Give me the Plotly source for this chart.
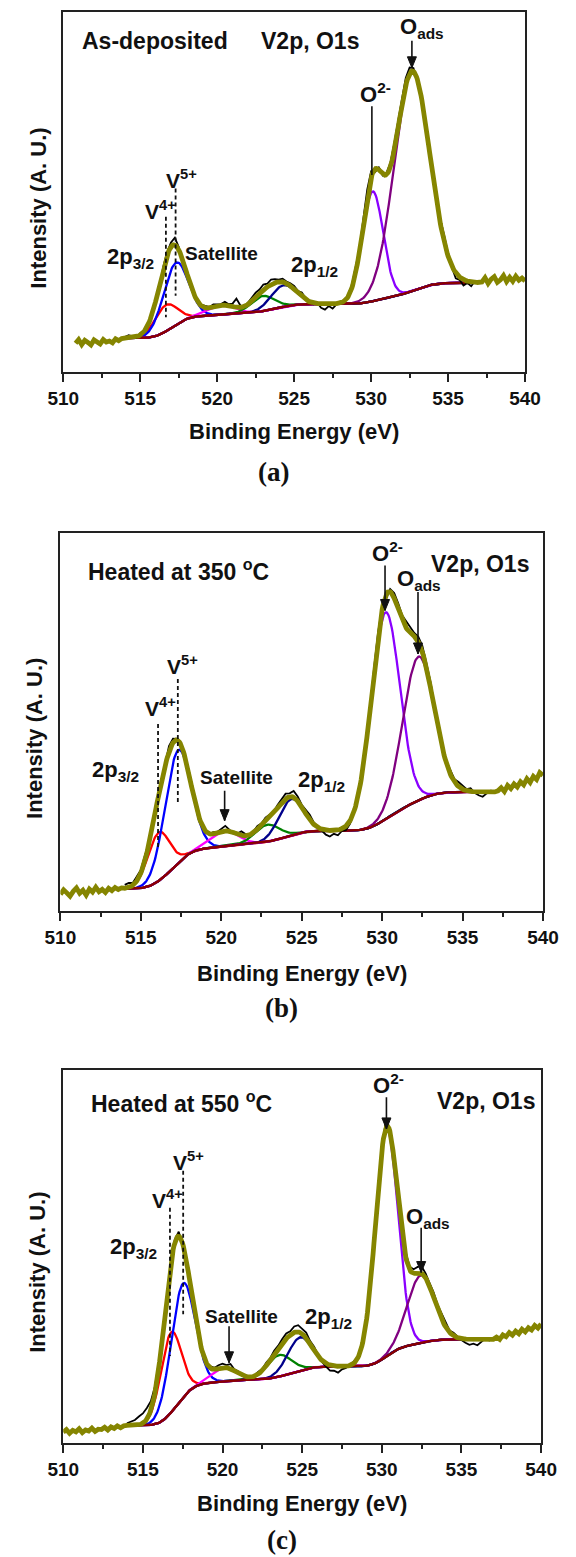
import numpy as np
import plotly.graph_objects as go

W, H = 576, 1557
FONT = "Liberation Sans, Arial, sans-serif"

# ---------------------------------------------------------------------------
# Fitted region (binding energy, eV) and sampling of the measured spectrum
fit_lo, fit_hi, fit_step = 514.0, 537.0, 0.05
raw_every = 5          # measured points every 0.25 eV
edge_step = 0.2        # sampling of the flat survey ends

# Fit components, in drawing order
component_names = ["V4+ 2p3/2", "V5+ 2p3/2", "Satellite", "V4+ 2p1/2",
                   "V5+ 2p1/2", "O2-", "O ads"]
component_colors = ["#ff0000", "#0000ff", "#ff00ff", "#008000",
                    "#00008b", "#8a00ff", "#800080"]

# ---- (a) As-deposited -------------------------------------------------------
a_centers = [516.65, 517.3, 520.3, 522.95, 524.3, 530.1, 532.65]
a_heights = [7.3, 17.2, 2.6, 4.2, 6.0, 30.5, 61.0]
a_fwhm = [1.7, 1.9, 2.0, 1.8, 1.9, 1.6, 2.7]
a_background = [9.4, 9.5, 5.9]   # start level, V2p step, O1s step
a_residual = [0.3, 0.8, 0.4, -0.3, 0.5, 0.2, -0.4, 0.6, 0.3, -0.5, 0.7, 0.9,
              1.2, 2.0, 0.8, -0.6, 0.4, -0.5, 0.3, -0.2, 0.4, 0.6, 0.2, 0.7,
              0.5, 0.3, 0.9, 0.4, 0.8, 2.4, 0.6, -0.3, 0.4, 0.9, 1.3, 1.1,
              1.5, 0.9, 1.4, 1.0, 0.6, 0.9, 0.5, 0.8, 1.1, 0.7, 1.3, 0.4,
              0.3, -0.4, 0.2, -1.1, -1.6, -0.6, -1.3, -0.2, 0.4, -0.3, 0.5, 0.8,
              1.2, 0.6, 1.5, 2.2, 1.8, -0.9, 0.6, -0.4, 0.5, 1.1, 1.9, 2.3,
              1.6, 2.1, 1.7, 0.9, -0.6, 0.8, -0.5, 0.9, 1.3, 1.6, 1.2, 1.8,
              0.7, -0.4, -1.5, -0.8, -1.6, -0.5, -1.2, 0.4, 0.2]
a_edge_left_start = 510.8
a_edge_left = [8.0, 9.0, 7.6, 8.8, 8.2, 7.5, 8.9, 8.4, 7.8, 9.0, 8.3, 8.6,
               8.1, 9.2, 8.7, 9.3]
a_edge_right = [25.0, 26.2, 24.6, 25.8, 26.5, 24.9, 25.6, 26.8, 25.1, 26.3,
                25.2, 26.6, 25.5, 26.1, 25.3]

# ---- (b) Heated at 350 C ----------------------------------------------------
b_centers = [516.1, 517.3, 520.2, 522.85, 524.35, 530.2, 532.25]
b_heights = [12.8, 29.8, 4.0, 4.5, 9.6, 54.7, 38.0]
b_fwhm = [1.6, 1.9, 2.0, 1.8, 1.8, 2.1, 2.3]
b_background = [5.9, 15.3, 10.3]
b_residual = [0.9, 1.2, 0.6, 1.0, 0.8, 1.3, 0.5, 0.9, 0.4, -0.5, 0.7, 1.6,
              1.1, 0.3, -0.6, 0.5, 0.9, 1.2, 0.7, 0.4, 0.3, -0.2, 0.5, 0.2,
              0.6, 1.3, 0.4, -0.3, 0.2, 1.1, 0.5, -0.4, 0.3, 0.8, 0.4, 0.9,
              0.6, 0.2, 0.8, 1.0, 1.4, 0.9, 1.7, 1.2, 0.6, 1.0, 1.3, 0.5,
              0.2, -0.5, -1.2, -1.6, -0.9, -1.4, -0.6, -1.1, -0.8, -0.3, 0.4, 0.2,
              0.7, 0.5, 0.9, 1.1, 0.6, -0.8, 0.7, 1.4, 1.6, 1.2, 1.8, 1.3,
              0.9, 1.4, 1.7, 1.2, 1.5, 1.0, 1.3, 0.8, 0.6, 1.1, 0.7, 1.2,
              0.9, 0.4, 0.8, -0.3, -0.9, -1.3, -0.4, 0.3, 0.2]
b_edge_left_start = 510.0
b_edge_left = [4.4, 5.6, 4.8, 3.9, 5.2, 6.1, 4.7, 5.5, 4.2, 5.8, 5.0, 6.3,
               5.1, 5.7, 4.9, 6.0, 5.4, 6.2, 5.7, 6.1]
b_edge_right = [31.8, 32.6, 31.6, 33.2, 32.4, 33.6, 32.8, 34.2, 33.4, 35.0,
                34.0, 35.6, 34.8, 36.6, 35.9]

# ---- (c) Heated at 550 C ----------------------------------------------------
c_centers = [516.75, 517.5, 520.1, 523.55, 524.85, 530.3, 532.45]
c_heights = [21.5, 30.5, 3.6, 5.8, 8.9, 60.9, 18.1]
c_fwhm = [1.5, 1.75, 1.8, 1.8, 1.8, 1.66, 2.0]
c_background = [4.7, 15.8, 7.3]
c_residual = [0.6, 1.0, 1.4, 2.2, 2.6, 3.0, 2.4, 1.8, 1.5, 0.9, 0.6, 0.3,
              0.8, 1.2, -0.4, -0.6, -0.3, 0.4, 0.6, 0.3, 0.2, 0.5, 0.4, 0.9,
              1.1, 0.7, 1.3, 0.4, 0.5, -0.2, 0.3, 0.1, 0.2, 0.6, 0.4, 0.8,
              0.5, 0.9, 0.7, 1.1, 1.4, 1.0, 1.6, 1.8, 1.2, 1.5, 0.8, 1.0,
              0.3, -0.4, -0.9, -1.5, -1.3, -1.7, -0.8, -0.5, 0.2, 0.5, 0.3, 0.8,
              0.6, 1.1, 0.7, 0.4, 1.2, 1.6, -0.5, -0.8, 0.6, 0.9, 1.3, 0.8,
              1.1, 1.6, 1.9, 1.2, 0.8, 1.3, 1.0, 1.4, 0.9, 0.5, 0.8, 0.3,
              -0.4, -1.0, -1.5, -1.2, -1.6, -0.7, 0.2, -0.3, 0.3]
c_edge_left_start = 510.0
c_edge_left = [2.9, 3.6, 2.6, 3.4, 3.0, 3.8, 2.8, 3.5, 3.2, 4.0, 3.1, 3.7,
               3.6, 4.2, 3.5, 4.3, 3.9, 4.6, 4.1, 4.6]
c_edge_right = [28.4, 27.8, 29.0, 28.5, 29.6, 28.9, 30.0, 29.3, 30.5, 29.8,
                30.9, 30.3, 31.5, 30.8, 31.9]

x_tick_values = [510, 515, 520, 525, 530, 535, 540]
x_tick_labels = ["510", "515", "520", "525", "530", "535", "540"]

# Plot boxes in page pixels: left, right, top, bottom
boxes = [(50, 539, 12, 372), (47, 558, 533, 911), (50, 556, 1070, 1443)]

E = np.round(np.arange(fit_lo, fit_hi + fit_step / 2, fit_step), 3)


def gauss(x, c, h, w):
    return h * np.exp(-4.0 * np.log(2.0) * ((x - c) / w) ** 2)


def fit_curves(centers, heights, fwhm, bg):
    comps = [gauss(E, c, h, w) for c, h, w in zip(centers, heights, fwhm)]
    v2p = np.sum(comps[:5], axis=0)
    o1s = np.sum(comps[5:], axis=0)
    cum_v = np.cumsum(v2p) / np.sum(v2p)
    cum_o = np.cumsum(o1s) / np.sum(o1s)
    base = bg[0] + bg[1] * cum_v + bg[2] * cum_o   # Shirley-type steps
    env = base + v2p + o1s
    return comps, base, env


panels = [
    dict(c=a_centers, h=a_heights, w=a_fwhm, bg=a_background, res=a_residual,
         l0=a_edge_left_start, left=a_edge_left, right=a_edge_right),
    dict(c=b_centers, h=b_heights, w=b_fwhm, bg=b_background, res=b_residual,
         l0=b_edge_left_start, left=b_edge_left, right=b_edge_right),
    dict(c=c_centers, h=c_heights, w=c_fwhm, bg=c_background, res=c_residual,
         l0=c_edge_left_start, left=c_edge_left, right=c_edge_right),
]

fig = go.Figure()

for k, p in enumerate(panels):
    sfx = "" if k == 0 else str(k + 1)
    xa, ya = "x" + sfx, "y" + sfx
    comps, base, env = fit_curves(p["c"], p["h"], p["w"], p["bg"])

    # individual components sitting on the background
    for comp, col, nm in zip(comps, component_colors, component_names):
        fig.add_trace(go.Scatter(x=E, y=base + comp, mode="lines", xaxis=xa, yaxis=ya,
                                 line=dict(color=col, width=2.3), name=nm))
    # Shirley background over the component tails
    fig.add_trace(go.Scatter(x=E, y=base, mode="lines", xaxis=xa, yaxis=ya,
                             line=dict(color="#8b0000", width=2.4), name="Background"))
    # measured spectrum
    e_raw = E[::raw_every]
    y_raw = env[::raw_every] + np.array(p["res"])
    fig.add_trace(go.Scatter(x=e_raw, y=y_raw, mode="lines", xaxis=xa, yaxis=ya,
                             line=dict(color="black", width=1.8), name="Data"))
    # cumulative fit joined to the survey ends
    x_left = p["l0"] + edge_step * np.arange(len(p["left"]))
    x_right = fit_hi + edge_step * (1 + np.arange(len(p["right"])))
    x_env = np.concatenate([x_left, E, x_right])
    y_env = np.concatenate([p["left"], env, p["right"]])
    fig.add_trace(go.Scatter(x=x_env, y=y_env, mode="lines", xaxis=xa, yaxis=ya,
                             line=dict(color="#858500", width=4.8), name="Fit"))

layout = dict(
    width=W, height=H, margin=dict(l=0, r=0, t=0, b=0),
    paper_bgcolor="white", plot_bgcolor="white", showlegend=False,
    font=dict(family=FONT, color="black"),
)

for k, (l, r, t, b) in enumerate(boxes):
    sfx = "" if k == 0 else str(k + 1)
    layout["xaxis" + sfx] = dict(
        domain=[l / W, r / W], range=[510, 540], anchor="y" + sfx,
        showline=True, mirror=True, linecolor="#222", linewidth=1.6,
        showgrid=False, zeroline=False, ticks="outside", ticklen=8, tickwidth=1.6,
        tickcolor="#222", tickvals=x_tick_values, ticktext=x_tick_labels,
        tickfont=dict(family=FONT, size=19, weight="bold", color="#111"),
        minor=dict(ticks="outside", dtick=2.5, tick0=510, ticklen=4.5,
                   tickwidth=1.6, tickcolor="#222", showgrid=False),
    )
    layout["yaxis" + sfx] = dict(
        domain=[1 - b / H, 1 - t / H], range=[0, 100], anchor="x" + sfx,
        showline=True, mirror=True, linecolor="#222", linewidth=1.6,
        showgrid=False, zeroline=False, showticklabels=False, ticks="",
    )

fig.update_layout(**layout)

annotations = []
shapes = []


def txt(text, x, y, ref, size=23, xanchor="center", yanchor="middle"):
    annotations.append(dict(text=text, x=x, y=y, xref="x" + ref, yref="y" + ref,
                            showarrow=False, xanchor=xanchor, yanchor=yanchor,
                            font=dict(family=FONT, size=size, weight="bold", color="#111")))


def arrow(x, y0, y1, ref, head=True):
    """Vertical pointer from y0 down to y1, optionally with a filled head."""
    shapes.append(dict(type="line", x0=x, x1=x, y0=y0, y1=y1,
                       xref="x" + ref, yref="y" + ref,
                       line=dict(color="#111", width=1.6)))
    if head:
        shapes.append(dict(type="path", xref="x" + ref, yref="y" + ref,
                           xsizemode="pixel", ysizemode="pixel",
                           xanchor=x, yanchor=y1,
                           path="M 0 0 L -4.5 11 L 4.5 11 Z",
                           fillcolor="#111", line=dict(color="#111", width=1)))


def dashed(x, y0, y1, ref):
    shapes.append(dict(type="line", x0=x, x1=x, y0=y0, y1=y1,
                       xref="x" + ref, yref="y" + ref,
                       line=dict(color="#111", width=1.8, dash="4px,3px")))


def paper_text(text, px, py, size, family=FONT, angle=0):
    annotations.append(dict(text=text, x=px / W, y=1 - py / H, xref="paper", yref="paper",
                            showarrow=False, xanchor="center", yanchor="middle",
                            textangle=angle,
                            font=dict(family=family, size=size, weight="bold", color="#111")))


# (a)
txt("As-deposited", 511.09, 91.9, "", xanchor="left")
txt("V2p, O1s", 522.7, 91.9, "", xanchor="left")
txt("O<sub>ads</sub>", 533.3, 95.5, "", size=22)
arrow(532.65, 92.0, 84.5, "")
txt("O<sup>2-</sup>", 530.3, 77.5, "", size=22)
arrow(530.05, 73.8, 54.7, "", head=False)
txt("V<sup>5+</sup>", 517.7, 53.5, "", size=21)
txt("V<sup>4+</sup>", 516.35, 45.0, "", size=21)
dashed(516.67, 43.1, 15.2, "")
dashed(517.3, 51.0, 21.2, "")
txt("2p<sub>3/2</sub>", 514.4, 31.8, "", size=22)
txt("Satellite", 520.25, 32.8, "", size=19)
txt("2p<sub>1/2</sub>", 526.3, 29.5, "", size=22)

# (b)
txt("Heated at 350 <sup>o</sup>C", 511.58, 90.1, "2", xanchor="left")
txt("V2p, O1s", 532.94, 91.9, "2", xanchor="left")
txt("O<sup>2-</sup>", 530.35, 95.0, "2", size=22)
arrow(530.18, 91.4, 79.5, "2")
txt("O<sub>ads</sub>", 532.3, 87.5, "2", size=22)
arrow(532.23, 84.4, 68.0, "2")
txt("V<sup>5+</sup>", 517.62, 65.0, "2", size=21)
txt("V<sup>4+</sup>", 516.22, 54.0, "2", size=21)
dashed(516.07, 49.5, 16.3, "2")
dashed(517.3, 61.4, 28.3, "2")
txt("2p<sub>3/2</sub>", 513.43, 37.0, "2", size=22)
txt("Satellite", 520.96, 35.3, "2", size=19)
arrow(520.21, 31.8, 23.9, "2")
txt("2p<sub>1/2</sub>", 526.25, 34.3, "2", size=22)

# (c)
txt("Heated at 550 <sup>o</sup>C", 511.64, 91.3, "3", xanchor="left")
txt("V2p, O1s", 533.35, 91.8, "3", xanchor="left")
txt("O<sup>2-</sup>", 530.4, 96.3, "3", size=22)
arrow(530.29, 92.7, 84.2, "3")
txt("O<sub>ads</sub>", 532.91, 60.3, "3", size=22)
arrow(532.47, 57.7, 45.7, "3")
txt("V<sup>5+</sup>", 517.86, 75.7, "3", size=21)
txt("V<sup>4+</sup>", 516.55, 65.4, "3", size=21)
dashed(516.7, 63.1, 23.3, "3")
dashed(517.53, 73.0, 34.5, "3")
txt("2p<sub>3/2</sub>", 514.41, 52.3, "3", size=22)
txt("Satellite", 521.17, 34.0, "3", size=19)
arrow(520.41, 31.3, 21.5, "3")
txt("2p<sub>1/2</sub>", 526.63, 33.5, "3", size=22)

# axis titles and panel letters
x_title_y = [432, 973, 1503]
y_title_x = [24, 19, 22]
y_title_y = [208, 738, 1272]
letters = ["(a)", "(b)", "(c)"]
letter_pos = [(273, 472), (281, 1008), (282, 1540)]
for k, (l, r, t, b) in enumerate(boxes):
    paper_text("Binding Energy (eV)", (l + r) / 2, x_title_y[k], 22)
    paper_text("Intensity (A. U.)", y_title_x[k], y_title_y[k], 22, angle=-90)
    paper_text(letters[k], letter_pos[k][0], letter_pos[k][1], 27,
               family="Liberation Serif, Times New Roman, serif")

fig.update_layout(annotations=annotations, shapes=shapes)
fig.write_html("out.html")
